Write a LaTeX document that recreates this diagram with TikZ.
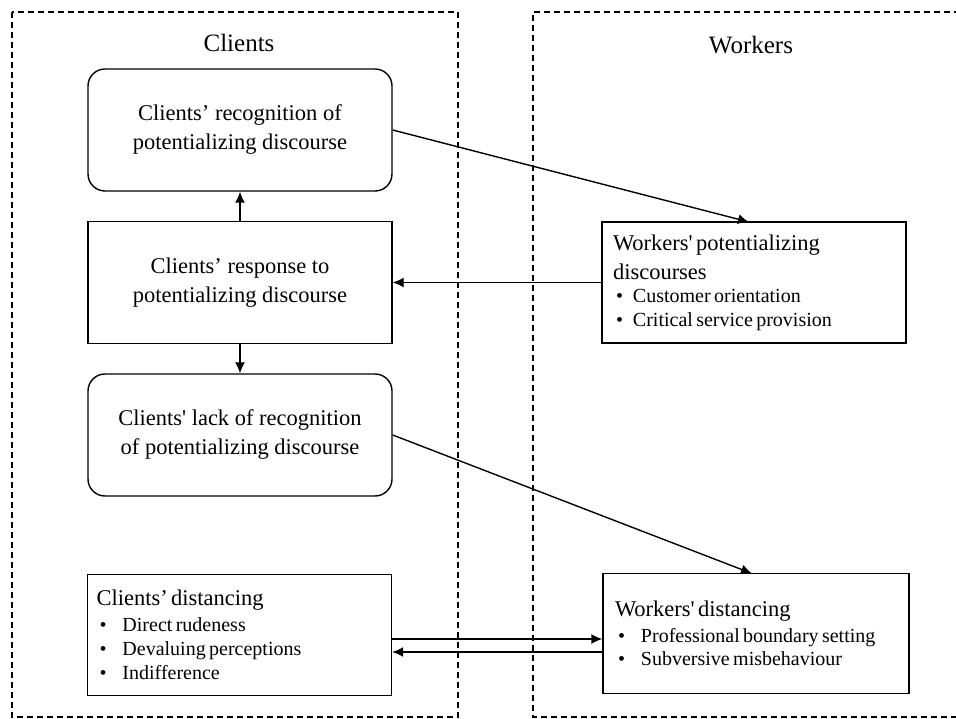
\documentclass[tikz,border=0pt]{standalone}
\usepackage{fontspec}
\setmainfont{Liberation Serif}[Ligatures=TeXOff]
\usetikzlibrary{arrows.meta}
\newcommand\bitem[2][17pt]{\par\noindent\hspace*{3pt}\makebox[#1][l]{\textbullet}#2}
\begin{document}
\begin{tikzpicture}[x=1pt,y=-1pt,
  frame/.style={line width=1.1pt, dash pattern=on 6pt off 4pt},
  cbox/.style={draw, line width=1.4pt, minimum width=304pt, minimum height=122pt, align=center, inner sep=0pt, font=\fontsize{22.5}{29}\selectfont},
  rbox/.style={cbox, rounded corners=17pt},
  lbox/.style={draw, line width=1.4pt, align=left, inner ysep=0pt},
  title/.style={font=\fontsize{25}{30}\selectfont},
  arr/.style={line width=1.4pt, -{Latex[length=11pt,width=10pt]}}]
\useasboundingbox (0,0) rectangle (956,719);
% frames
\draw[frame] (12,12) rectangle (458,717);
\draw[frame] (960,12) -- (533,12) -- (533,717) -- (960,717);
\node[title] (tc) at (239,43) {Clients};
\node[title] (tw) at (751,45) {Workers};
% client boxes
\node[rbox] (b1) at (240,130) {Clients’ recognition of\\potentializing discourse};
\node[cbox] (b2) at (240,282.5) {Clients’ response to\\potentializing discourse};
\node[rbox] (b3) at (240,435) {Clients' lack of recognition\\of potentializing discourse};
\node[lbox, minimum width=304pt, minimum height=121pt, text width=286pt, inner xsep=9pt] (b4) at (239.5,635)
 {{\fontsize{22.5}{28}\selectfont Clients’ distancing\par}\vspace{2pt}%
  {\fontsize{20}{24}\selectfont\bitem[23pt]{Direct rudeness}\bitem[23pt]{Devaluing perceptions}\bitem[23pt]{Indifference}\par}};
% worker boxes
\node[lbox, minimum width=304pt, minimum height=121pt, text width=282pt, inner xsep=11pt] (wp) at (754,282.5)
 {{\fontsize{22.5}{29}\selectfont Workers' potentializing\\discourses\par}%
  {\fontsize{20}{23.5}\selectfont\bitem{Customer orientation}\bitem{Critical service provision}\par}};
\node[lbox, minimum width=306pt, minimum height=120pt, text width=282pt, inner xsep=12pt] (wd) at (756,633.5)
 {{\fontsize{22.5}{28}\selectfont Workers' distancing\par}\vspace{2pt}%
  {\fontsize{20}{23.5}\selectfont\bitem[23pt]{Professional boundary setting}\bitem[23pt]{Subversive misbehaviour}\par}};
% connectors
\coordinate (t1) at (749,222);
\coordinate (t2) at (752,573.5);
\draw[arr] (b2.north) -- (b1.south);
\draw[arr] (b2.south) -- (b3.north);
\draw[arr] (b1.east) -- (t1);
\draw[arr] (wp.west) -- (b2.east);
\draw[arr] (b3.east) -- (t2);
\draw[arr] (b4.east |- 0,639) -- (wd.west |- 0,639);
\draw[arr] (wd.west |- 0,652) -- (b4.east |- 0,652);
\end{tikzpicture}
\end{document}
